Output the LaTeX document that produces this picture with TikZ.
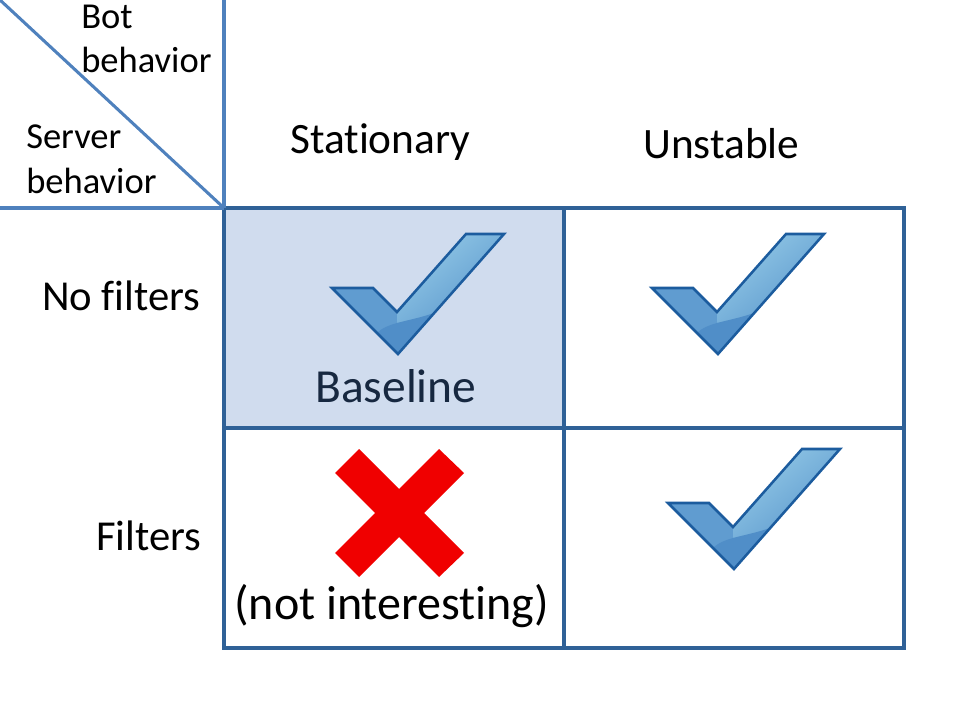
\documentclass[tikz,border=0pt]{standalone}
\usepackage{fontspec}
\setmainfont[Ligatures=NoCommon]{Carlito}
\usetikzlibrary{positioning,shapes}
\definecolor{linecol}{RGB}{79,129,189}
\definecolor{cellcol}{RGB}{47,97,151}
\definecolor{basefill}{RGB}{208,220,238}
\definecolor{tickedge}{RGB}{28,92,158}
\definecolor{ticklight}{RGB}{146,200,230}
\definecolor{tickmid}{RGB}{96,156,208}
\definecolor{tickdark}{RGB}{80,142,200}
\definecolor{crosscol}{RGB}{240,0,0}
\definecolor{inkcol}{RGB}{23,40,64}

\begin{document}
\begin{tikzpicture}[x=0.75pt,y=-0.75pt]
	\tikzstyle{cell} = [draw=cellcol, line width=2.3pt, rectangle, minimum height=165pt, minimum width=255pt, inner sep=0pt, outer sep=0pt]
	\tikzstyle{head} = [inner sep=0pt, font=\fontsize{32.5}{38}\selectfont]
	\tikzstyle{side} = [inner sep=0pt, font=\fontsize{32}{38}\selectfont]
	\tikzstyle{big} = [inner sep=0pt, text=inkcol, font=\fontsize{35.6}{42}\selectfont]
	\tikzstyle{small} = [inner sep=0pt, align=left, font=\fontsize{27.4}{33.5}\selectfont]
	\tikzstyle{rule} = [draw=linecol, line width=2.3pt]
	\tikzset{tick/.pic={
		\fill [tickmid] (-66,-67) -- (-25,-67) -- (-1,-43) -- (68,-121) -- (106,-121) -- (0,-1) -- cycle;
		\path [top color=ticklight, bottom color=tickdark, shading angle=40] (-1,-43) -- (68,-121) -- (106,-121) -- (0,-1) -- cycle;
		\fill [tickdark] (-21,-22) .. controls (-10,-33) and (10,-33) .. (36,-42) -- (0,-1) -- cycle;
		\draw [tickedge, line width=1.9pt, line join=miter] (-66,-67) -- (-25,-67) -- (-1,-43) -- (68,-121) -- (106,-121) -- (0,-1) -- cycle;
	}}
	\useasboundingbox (0,0) rectangle (960,720);

	\node [cell, fill=basefill, anchor=north west] (base) at (224,208) {};
	\node [cell, right = 0pt of base] (unstab) {};
	\node [cell, below = 0pt of base] (notint) {};
	\node [cell, below = 0pt of unstab] (filt) {};

	\coordinate (topend) at (224,0);
	\coordinate (leftend) at (0,208);
	\coordinate (diagend) at (0,0);

	\draw [rule] (topend) -- (base.north west);
	\draw [rule] (leftend) -- (base.north west);
	\draw [rule] (diagend) -- (base.north west);

	\node [small, anchor=west] (bot) at (81,39) {Bot\\behavior};
	\node [small, anchor=west] (server) at (26,159) {Server\\behavior};
	\node [head, anchor=west] (stationary) at (290,142) {Stationary};
	\node [head, anchor=west] (unstable) at (643,144) {Unstable};
	\node [side, anchor=west] (nofilters) at (42,296) {No filters};
	\node [side, anchor=west] (filters) at (96,536) {Filters};
	\node [big, anchor=west] (baseline) at (315,386) {Baseline};
	\node [big, text=black, font=\fontsize{36}{42}\selectfont, anchor=west] (notinter) at (234,606) {(not interesting)};

	\pic at (398,355) {tick};
	\pic at (718,355) {tick};
	\pic at (734,570) {tick};

	\fill [crosscol] (359,449) -- (399,489) -- (439,449) -- (464,473) -- (424,513) -- (464,553) -- (439,577) -- (399,537) -- (359,577) -- (335,553) -- (375,513) -- (335,473) -- cycle;
\end{tikzpicture}
\end{document}
